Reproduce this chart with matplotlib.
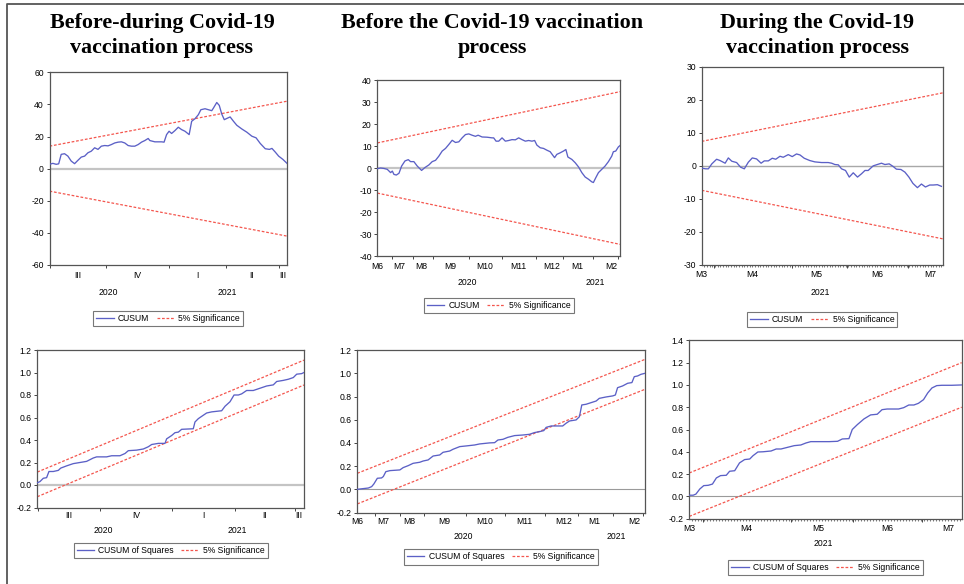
import matplotlib
matplotlib.use("Agg")
import matplotlib.pyplot as plt
from matplotlib.lines import Line2D

TICKFONT = ["Liberation Sans Narrow", "Liberation Sans", "DejaVu Sans"]
BLUE = "#5b60c6"
RED = "#f4564e"

# ---- panel 1: CUSUM, before-during (obs index, value)
p1_obs = [0, 4, 8, 11, 14, 18, 22, 26, 30, 34, 38, 42, 46, 50, 54, 58, 62, 66, 70, 74,
          78, 82, 86, 90, 94, 98, 102, 106, 110, 114, 118, 120, 126, 134, 137, 140, 143, 146, 150, 154,
          158, 162, 167, 170, 174, 178, 181, 186, 190, 194, 196, 200, 203, 206, 209, 213, 216, 220, 224, 230,
          236, 242, 247, 252, 258, 263, 266, 270, 274, 279, 284]
p1_val = [2.7, 3.3, 2.7, 3, 8.9, 9.3, 7.8, 4.7, 3.1, 5.2, 7.2, 7.8, 9.9, 10.9, 13, 12, 14, 14.4, 14.2, 15,
          16, 16.5, 16.7, 16, 14.4, 14, 14, 15, 16.5, 17.5, 18.8, 17.5, 16.7, 16.7, 16.5, 21.2, 23.3, 21.9, 23.7, 25.8,
          24.3, 23.3, 21.2, 29.5, 31.1, 33.6, 36.7, 37.3, 36.7, 36.1, 37.7, 41.2, 39.4, 34, 30.5, 31.5, 32.2, 29.5, 27, 24.7,
          22.7, 20.2, 19.2, 15.7, 12.4, 12, 12.6, 10.3, 7.8, 5.8, 3.3]
p1_sig = [14, 42]

# ---- panel 2: CUSUM, before
p2_obs = [0, 2.5, 5, 7.5, 10, 11.3, 12.5, 14.3, 16.3, 18.3, 20.8, 23.3, 25, 27.5, 30, 33.3, 35.8, 38.8, 41.3, 43.8,
          46.3, 48.8, 51.3, 53.8, 56.3, 58.8, 61.3, 63.8, 66.3, 68.8, 71.3, 73.8, 75.8, 78.8, 82.5, 86.3, 87.5, 89.3, 91.3, 93.8,
          96.3, 98.8, 101.3, 103.8, 106.3, 108.8, 111.3, 113.8, 116.3, 118.3, 120, 122.5, 125, 127.5, 130, 133.3, 135, 137.5, 140, 141.8,
          143.3, 146.3, 148.8, 151.3, 153.8, 156.3, 158.8, 161.3, 162.5, 164.3, 166.3, 168.8, 171.3, 173.8, 176.3, 177.5, 179.3, 181.3, 182.5]
p2_val = [-0.3, 0, -0.2, -0.6, -2.1, -1.4, -2.9, -3.2, -2.4, 0.9, 3.2, 3.8, 2.9, 2.9, 0.9, -1.1, 0.2, 1.4, 2.9, 3.5,
          5.4, 7.7, 8.9, 10.7, 12.6, 11.6, 11.9, 13.7, 15.2, 15.5, 14.9, 14.4, 14.9, 14.1, 14, 13.7, 13.7, 12.2, 12.2, 13.7,
          12.2, 12.5, 12.9, 12.8, 13.7, 12.9, 12.2, 12.5, 12.2, 12.5, 10.4, 9.2, 8.9, 8.1, 7.4, 4.7, 6.2, 6.9, 7.7, 8.4,
          5, 3.9, 2.4, 0.5, -2.1, -4.1, -5.1, -6.3, -6.6, -4.4, -2.1, -0.6, 0.9, 2.9, 5.4, 7.4, 7.7, 9.6, 10.2]
p2_sig = [11.4, 34.7]

# ---- panel 3: CUSUM, during
p3_obs = [0, 1.5, 2.5, 3.8, 5.6, 6.9, 8.8, 10, 11.3, 13.1, 14.6, 16, 17.5, 19, 20.6, 22.3, 23.5, 25, 26.5, 27.8,
          29.4, 30.6, 32.5, 34, 35.6, 36.9, 38.5, 40.6, 42.5, 45, 47.5, 48.8, 50, 51.3, 52.5, 54, 55.4, 56.9, 58.5, 60,
          61.3, 62.5, 64.4, 66.3, 67.5, 68.8, 70.4, 71.9, 73.1, 74.8, 76.3, 77.8, 79.3, 81, 82.5, 84, 85.6, 86.9, 88.5, 90]
p3_val = [-0.7, -0.9, -0.9, 0.6, 2, 1.6, 0.8, 2.4, 1.4, 1, -0.4, -0.9, 1.1, 2.4, 2.1, 0.8, 1.5, 1.5, 2.3, 2,
          2.9, 2.6, 3.4, 2.8, 3.6, 3.3, 2.3, 1.6, 1.2, 1, 1, 0.8, 0.4, 0.3, -0.9, -1.4, -3.4, -2.1, -3.4, -2.4,
          -1.4, -1.4, 0, 0.5, 0.8, 0.4, 0.6, -0.2, -1, -1.1, -1.9, -3.4, -5.3, -6.6, -5.5, -6.4, -5.8, -5.8, -5.7, -6.2]
p3_sig = [7.4, 22.1]

# ---- panel 4: CUSUM of squares, before-during
p4_obs = [0, 2.8, 6.4, 9.9, 12.4, 17, 22.4, 24.9, 31.2, 38.3, 45.4, 52.5, 59.6, 63.2, 73.8, 79.2, 88, 93.4, 96.9, 105.8,
          112.9, 118.2, 121.8, 128.9, 136, 137.7, 143.1, 146.6, 150.2, 153.7, 166.1, 167.9, 171.5, 175, 180.3, 185.7, 191, 196.3, 199.9, 205.2,
          209.5, 214.1, 217.6, 222.9, 230, 237.1, 244.2, 251.3, 254.9, 262, 267.3, 272.6, 276.2, 281.5, 284]
p4_val = [0.02, 0.03, 0.06, 0.065, 0.12, 0.12, 0.13, 0.15, 0.17, 0.19, 0.2, 0.21, 0.24, 0.25, 0.25, 0.26, 0.26, 0.28, 0.305, 0.31,
          0.32, 0.34, 0.36, 0.37, 0.37, 0.41, 0.44, 0.465, 0.47, 0.495, 0.5, 0.56, 0.59, 0.61, 0.64, 0.65, 0.655, 0.66, 0.7, 0.74,
          0.8, 0.8, 0.81, 0.84, 0.84, 0.86, 0.88, 0.89, 0.92, 0.93, 0.94, 0.955, 0.985, 0.99, 1.0]
p4_up = [0.115, 1.11]
p4_lo = [-0.104, 0.889]

# ---- panel 5: CUSUM of squares, before
p5_obs = [0, 3.8, 7, 9.1, 10.5, 12.7, 15.4, 16.5, 18.1, 20.7, 27, 29.1, 32.3, 35.4, 39.6, 41.8, 44.9, 48.1, 52.3, 54.4,
          58.6, 60.7, 65, 69.2, 74.4, 77.6, 83.9, 87.1, 89.2, 92.4, 95.5, 99.8, 105, 109.2, 112.4, 115.6, 118.3, 119.8, 123, 127.2,
          130.3, 132.4, 134.6, 138.8, 140.9, 142.4, 145.1, 148.3, 151.5, 153.5, 157.8, 162, 163.7, 165.1, 168.3, 171.5, 174.2, 175.7, 177.8, 179.9, 182.5]
p5_val = [0, 0.006, 0.011, 0.023, 0.046, 0.095, 0.098, 0.11, 0.152, 0.161, 0.167, 0.187, 0.204, 0.224, 0.233, 0.244, 0.253, 0.287, 0.296, 0.319,
          0.33, 0.345, 0.368, 0.374, 0.382, 0.391, 0.4, 0.402, 0.425, 0.431, 0.448, 0.463, 0.468, 0.474, 0.489, 0.497, 0.506, 0.534, 0.546, 0.546,
          0.546, 0.569, 0.589, 0.598, 0.626, 0.727, 0.733, 0.747, 0.761, 0.784, 0.796, 0.805, 0.813, 0.876, 0.891, 0.914, 0.92, 0.971, 0.977, 0.991, 1.0]
p5_up = [0.138, 1.12]
p5_lo = [-0.126, 0.862]

# ---- panel 6: CUSUM of squares, during
p6_obs = [0, 1.3, 2.2, 3.5, 4.8, 6.3, 7.7, 9, 10.4, 12.3, 13.4, 15.1, 16.7, 18.4, 20.1, 21.2, 22.8, 24.5, 27.2, 28.9,
          30.5, 32.7, 34.9, 37.1, 38.8, 40.4, 43.2, 46.5, 49.3, 50.9, 53.1, 54.2, 55.9, 58.1, 60.3, 62.5, 64.1, 65.8, 69.6, 71.3,
          73, 74.7, 76.2, 77.9, 79.3, 80.7, 82.3, 84, 87.3, 90.6]
p6_val = [0.01, 0.01, 0.02, 0.066, 0.096, 0.099, 0.11, 0.165, 0.186, 0.189, 0.225, 0.23, 0.3, 0.33, 0.335, 0.365, 0.398, 0.4, 0.407, 0.425,
          0.425, 0.44, 0.455, 0.461, 0.479, 0.491, 0.491, 0.491, 0.494, 0.515, 0.518, 0.6, 0.644, 0.695, 0.731, 0.737, 0.778, 0.784, 0.784, 0.796,
          0.82, 0.82, 0.835, 0.868, 0.928, 0.973, 0.994, 0.997, 0.997, 1.0]
p6_up = [0.21, 1.2]
p6_lo = [-0.18, 0.8]

# ---- date axes (in observation units)
N1, N2, N3 = 284, 182.5, 90.6
q_bounds = [1, 67, 143, 211, 274]
q_pos = [34, 105, 177, 242, 279]
q_lab = ["III", "IV", "I", "II", "III"]
q_year_pos = [70, 213]
q_years = ["2020", "2021"]

m_bounds = [11, 27, 42, 69, 94, 119, 140, 162.5, 181]
m_pos = [0, 16.5, 33, 55, 81, 106, 131, 150, 176]
m_lab = ["M6", "M7", "M8", "M9", "M10", "M11", "M12", "M1", "M2"]
m_year_pos = [67.5, 164]
m_years = ["2020", "2021"]

d_bounds = [4.6, 33.9, 54.5, 77.4]
d_pos = [0, 19, 43, 66, 86]
d_lab = ["M3", "M4", "M5", "M6", "M7"]
d_year_pos = [44.4]
d_years = ["2021"]

titles = [("Before-during Covid-19\nvaccination process", 162),
          ("Before the Covid-19 vaccination\nprocess", 492),
          ("During the Covid-19\nvaccination process", 817)]

W, H = 964, 584
fig = plt.figure(figsize=(W / 100, H / 100), dpi=100)


def box(x0, x1, y0, y1):
    return [x0 / W, 1 - y1 / H, (x1 - x0) / W, (y1 - y0) / H]


def panel(rect, x, y, N, ylim, yticks, yfmt, up, lo, bounds, pos, labs, ypos, years,
          name, lab_y, year_y, leg_y, zero_lw, zero_c, dense=False):
    ax = fig.add_axes(rect)
    ax.set_xlim(0, N)
    ax.set_ylim(*ylim)
    ax.axhline(0, color=zero_c, lw=zero_lw, zorder=1)
    ax.plot([0, N], up, color=RED, lw=0.9, dashes=(2.2, 1.4), zorder=2)
    ax.plot([0, N], lo, color=RED, lw=0.9, dashes=(2.2, 1.4), zorder=2)
    ax.plot(x, y, color=BLUE, lw=0.95, zorder=3)
    ax.set_yticks(yticks)
    ax.set_yticklabels([yfmt % v for v in yticks], fontsize=6.2, family=TICKFONT)
    ax.set_xticks(bounds)
    ax.set_xticklabels([])
    if dense:
        ax.set_xticks([i for i in range(1, int(N) + 1)], minor=True)
        ax.tick_params(axis="x", which="minor", length=1.5, width=0.5, color="#444444")
    ax.tick_params(axis="both", which="major", direction="out", length=2.5, width=0.7,
                   color="#444444", pad=1.5)
    tr = ax.get_xaxis_transform()
    for p, t in zip(pos, labs):
        ax.text(p, lab_y, t, transform=tr, ha="center", va="center", fontsize=6.2, family=TICKFONT)
    for p, t in zip(ypos, years):
        ax.text(p, year_y, t, transform=tr, ha="center", va="center", fontsize=6.2, family=TICKFONT)
    for s in ax.spines.values():
        s.set_color("#555555")
        s.set_linewidth(0.9)
    handles = [Line2D([], [], color=BLUE, lw=0.95),
               Line2D([], [], color=RED, lw=0.9, dashes=(2.2, 1.4))]
    leg = ax.legend(handles, [name, "5% Significance"], loc="center", bbox_to_anchor=(0.5, leg_y),
                    ncol=2, frameon=True, fancybox=False, edgecolor="#555555",
                    handlelength=2.0, handletextpad=0.5, columnspacing=0.9, borderpad=0.35,
                    prop={"family": TICKFONT, "size": 6.2})
    leg.get_frame().set_linewidth(0.8)
    return ax


panel(box(49.5, 287, 72.3, 265), p1_obs, p1_val, N1, (-60, 60), list(range(-60, 61, 20)), "%d",
      p1_sig, [-v for v in p1_sig], q_bounds, q_pos, q_lab, q_year_pos, q_years,
      "CUSUM", -0.057, -0.145, -0.28, 1.6, "#c4c4c4")
panel(box(377.3, 620, 80, 256), p2_obs, p2_val, N2, (-40, 40), list(range(-40, 41, 10)), "%d",
      p2_sig, [-v for v in p2_sig], m_bounds, m_pos, m_lab, m_year_pos, m_years,
      "CUSUM", -0.06, -0.148, -0.281, 1.6, "#c4c4c4")
panel(box(701.7, 943, 66.7, 265), p3_obs, p3_val, N3, (-30, 30), list(range(-30, 31, 10)), "%d",
      p3_sig, [-v for v in p3_sig], d_bounds, d_pos, d_lab, d_year_pos, d_years,
      "CUSUM", -0.05, -0.141, -0.277, 1.0, "#a8a8a8", dense=True)

sq_ticks = [-0.2, 0.0, 0.2, 0.4, 0.6, 0.8, 1.0, 1.2]
panel(box(37.3, 304, 350, 507.5), p4_obs, p4_val, N1, (-0.2, 1.2), sq_ticks, "%.1f",
      p4_up, p4_lo, q_bounds, q_pos, q_lab, q_year_pos, q_years,
      "CUSUM of Squares", -0.048, -0.143, -0.276, 1.6, "#c4c4c4")
panel(box(357.3, 645, 350.1, 512.5), p5_obs, p5_val, N2, (-0.2, 1.2), sq_ticks, "%.1f",
      p5_up, p5_lo, m_bounds, m_pos, m_lab, m_year_pos, m_years,
      "CUSUM of Squares", -0.057, -0.145, -0.274, 0.8, "#9a9a9a")
panel(box(689.3, 961.7, 340.4, 518.6), p6_obs, p6_val, N3, (-0.2, 1.4), sq_ticks + [1.4], "%.1f",
      p6_up, p6_lo, d_bounds, d_pos, d_lab, d_year_pos, d_years,
      "CUSUM of Squares", -0.053, -0.137, -0.274, 0.8, "#9a9a9a", dense=True)

for txt, cx in titles:
    fig.text(cx / W, 1 - 35.5 / H, txt, ha="center", va="center", fontsize=15.8,
             fontweight="bold", family="Liberation Serif", linespacing=1.3)

# outer frame (top and left edges visible)
fig.add_artist(Line2D([7 / W, 7 / W, 1], [0, 1 - 4 / H, 1 - 4 / H], color="#555555", lw=1.3))

fig.savefig("out.png", dpi=100)
